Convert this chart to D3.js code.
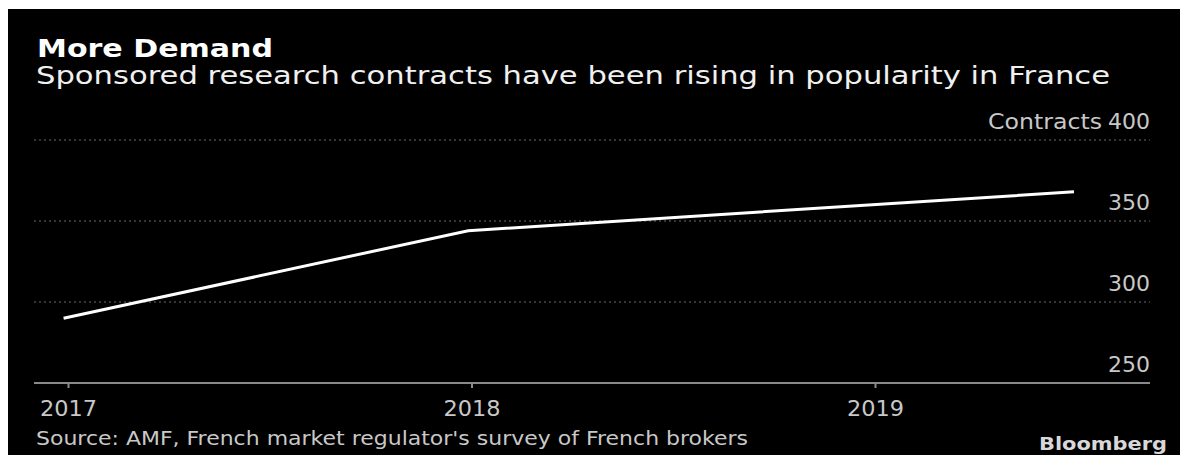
<!DOCTYPE html>
<html>
<head>
<meta charset="utf-8">
<script src="https://cdn.jsdelivr.net/npm/d3@7"></script>
<style>
  body { margin: 0; background: #fff; }
  svg { display: block; }
  text { font-family: "DejaVu Sans", Verdana, sans-serif; }
</style>
</head>
<body>
<div id="chart"></div>
<script>
// data
var dates = ["2016-12-28", "2017-12-29", "2019-06-30"];
var contracts = [290, 344, 368];
var yTicks = [250, 300, 350, 400];
var xTicks = ["2017", "2018", "2019"];

var svgWidth = 1180;
var svgHeight = 455;

var svg = d3.select("#chart")
  .append("svg")
  .attr("width", svgWidth)
  .attr("height", svgHeight);

// black panel
svg.append("rect")
  .attr("x", 8)
  .attr("y", 9)
  .attr("width", svgWidth - 8)
  .attr("height", svgHeight - 9)
  .attr("fill", "#000");

var parse = d3.timeParse("%Y-%m-%d");
var data = dates.map(function(d, i) {
  return { date: parse(d), value: contracts[i] };
});

var plotLeft = 34, plotRight = 1150;

var xScale = d3.scaleTime()
  .domain([new Date(2017, 0, 1), new Date(2019, 0, 1)])
  .range([68, 875]);

var yScale = d3.scaleLinear()
  .domain([250, 400])
  .range([383, 140]);

// the source text is rendered wider than DejaVu, so stretch it a bit
function stretch(sel, len) {
  sel.attr("textLength", len).attr("lengthAdjust", "spacingAndGlyphs");
  return sel;
}

// gridlines (dotted)
svg.selectAll("line.grid")
  .data(yTicks.filter(function(d) { return d > 250; }))
  .enter()
  .append("line")
  .classed("grid", true)
  .attr("x1", plotLeft)
  .attr("x2", plotRight)
  .attr("y1", d => yScale(d))
  .attr("y2", d => yScale(d))
  .attr("stroke", "#6a6a6a")
  .attr("stroke-width", 1)
  .attr("stroke-dasharray", "2,3");

// y labels, right side above gridlines
svg.selectAll("text.ylab")
  .data(yTicks)
  .enter()
  .append("text")
  .classed("ylab", true)
  .attr("x", plotRight)
  .attr("y", d => yScale(d) - 11)
  .attr("text-anchor", "end")
  .attr("fill", "#c8c8c8")
  .attr("font-size", "21px")
  .attr("textLength", 42)
  .attr("lengthAdjust", "spacingAndGlyphs")
  .text(d => d);

stretch(svg.append("text")
  .attr("x", 988)
  .attr("y", yScale(400) - 11)
  .attr("fill", "#c8c8c8")
  .attr("font-size", "21px")
  .text("Contracts"), 114);

// x axis
var xAxis = d3.axisBottom(xScale)
  .tickValues(xTicks.map(function(y) { return new Date(+y, 0, 1); }))
  .tickFormat(d3.timeFormat("%Y"))
  .tickSize(5)
  .tickPadding(13);

var xg = svg.append("g")
  .attr("transform", `translate(0, ${yScale(250)})`)
  .call(xAxis);

xg.select(".domain").remove();
xg.append("line")
  .attr("x1", plotLeft)
  .attr("x2", plotRight)
  .attr("stroke", "#8a8a8a")
  .attr("stroke-width", 2);
xg.selectAll(".tick line")
  .attr("stroke", "#8a8a8a")
  .attr("stroke-width", 2);
xg.selectAll(".tick text")
  .attr("fill", "#c8c8c8")
  .attr("font-size", "21px")
  .attr("font-family", "DejaVu Sans, sans-serif")
  .attr("textLength", 57)
  .attr("lengthAdjust", "spacingAndGlyphs");

// the line
var line = d3.line()
  .x(d => xScale(d.date))
  .y(d => yScale(d.value));

svg.append("path")
  .datum(data)
  .attr("d", line)
  .attr("fill", "none")
  .attr("stroke", "#fff")
  .attr("stroke-width", 3);

// titles
stretch(svg.append("text")
  .attr("x", 37)
  .attr("y", 57)
  .attr("fill", "#fff")
  .attr("font-size", "24px")
  .attr("font-weight", "bold")
  .text("More Demand"), 236);

stretch(svg.append("text")
  .attr("x", 36)
  .attr("y", 84)
  .attr("fill", "#f0f0f0")
  .attr("font-size", "24px")
  .text("Sponsored research contracts have been rising in popularity in France"), 1074);

// footer
stretch(svg.append("text")
  .attr("x", 36)
  .attr("y", 445)
  .attr("fill", "#c8c8c8")
  .attr("font-size", "19px")
  .text("Source: AMF, French market regulator's survey of French brokers"), 712);

stretch(svg.append("text")
  .attr("x", 1039)
  .attr("y", 450)
  .attr("fill", "#d8d8d8")
  .attr("font-size", "17px")
  .attr("font-weight", "bold")
  .text("Bloomberg"), 128);
</script>
</body>
</html>
